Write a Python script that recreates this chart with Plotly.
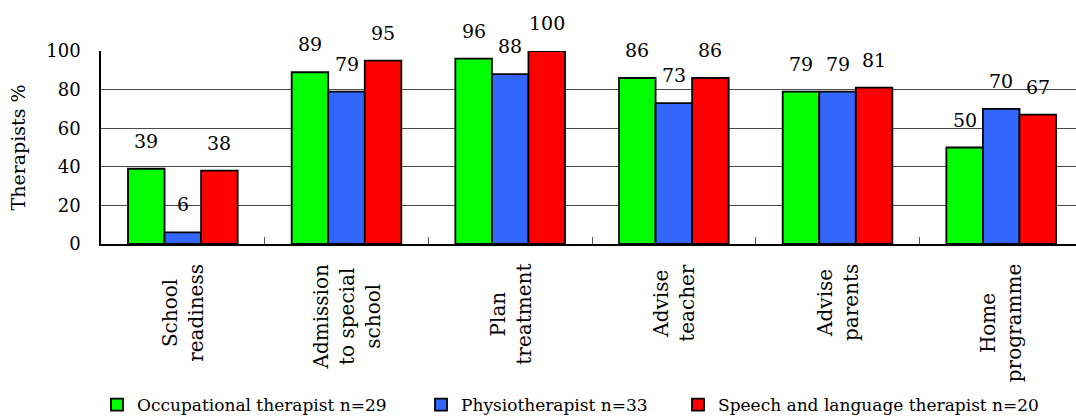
import plotly.graph_objects as go

# Survey results: share of therapists (%) reporting each activity
categories = ["School readiness", "Admission to special school", "Plan treatment",
              "Advise teacher", "Advise parents", "Home programme"]
category_labels = ["School<br>readiness", "Admission<br>to special<br>school", "Plan<br>treatment",
                   "Advise<br>teacher", "Advise<br>parents", "Home<br>programme"]
series_names = ["Occupational therapist n=29", "Physiotherapist n=33",
                "Speech and language therapist n=20"]
occupational = [39, 89, 96, 86, 79, 50]
physio = [6, 79, 88, 73, 79, 70]
speech = [38, 95, 100, 86, 81, 67]
y_ticks = [0, 20, 40, 60, 80, 100]

series_values = [occupational, physio, speech]
colors = ["#00FF00", "#3366FF", "#FF0000"]
legend_widths = [279, 212, 320]   # px reserved for each legend entry's text

FONT = "DejaVu Serif"
W, H = 1076, 417
M_L, M_R, M_T, M_B = 101, 0, 51, 173
X_RANGE = [-0.5, 5.457]
BARGAP = 0.33

fig = go.Figure()
for name, vals, col, lw in zip(series_names, series_values, colors, legend_widths):
    fig.add_trace(go.Bar(
        x=categories, y=vals, name=name, legendwidth=lw,
        marker=dict(color=col, line=dict(color="black", width=1.8)),
    ))

# pixel geometry of grouped bars, used to centre the value labels on each bar
plot_w = W - M_L - M_R
px_per_cat = plot_w / (X_RANGE[1] - X_RANGE[0])
bar_px = px_per_cat * (1 - BARGAP) / len(series_values)

annotations = []
for s, vals in enumerate(series_values):
    shift = (s - (len(series_values) - 1) / 2) * bar_px
    for cat, v in zip(categories, vals):
        annotations.append(dict(
            x=cat, y=v, xref="x", yref="y", text=str(v), showarrow=False,
            xshift=shift, yanchor="bottom", yshift=15,
            font=dict(family=FONT, size=19, color="black"),
        ))

# rotated, centre-aligned category labels under the axis
for cat, lab in zip(categories, category_labels):
    annotations.append(dict(
        x=cat, y=0, xref="x", yref="paper", text=lab, showarrow=False,
        textangle=-90, align="center", xanchor="center", yanchor="top", yshift=-18,
        font=dict(family=FONT, size=20, color="black"),
    ))

fig.update_layout(
    width=W, height=H,
    margin=dict(l=M_L, r=M_R, t=M_T, b=M_B),
    paper_bgcolor="white", plot_bgcolor="white",
    barmode="group", bargap=BARGAP, bargroupgap=0,
    font=dict(family=FONT, size=18, color="black"),
    annotations=annotations,
    legend=dict(
        orientation="h", xref="container", x=97 / W, xanchor="left",
        yref="container", y=12 / H, yanchor="middle",
        font=dict(family=FONT, size=17, color="black"),
        itemwidth=30, tracegroupgap=0,
    ),
    xaxis=dict(
        type="category", range=X_RANGE, showticklabels=False,
        tickson="boundaries", ticks="inside", ticklen=7, tickcolor="#555555",
        showline=True, linecolor="black", linewidth=2, showgrid=False,
    ),
    yaxis=dict(
        range=[0, 100], tickvals=y_ticks, ticks="", ticklabelstandoff=15,
        showline=True, linecolor="black", linewidth=1.5,
        showgrid=True, gridcolor="#4a4a4a", gridwidth=1, zeroline=False,
        tickfont=dict(family=FONT, size=18, color="black"),
        title=dict(text="Therapists %", standoff=16,
                   font=dict(family=FONT, size=19, color="black")),
    ),
)

fig.write_html("out.html")
